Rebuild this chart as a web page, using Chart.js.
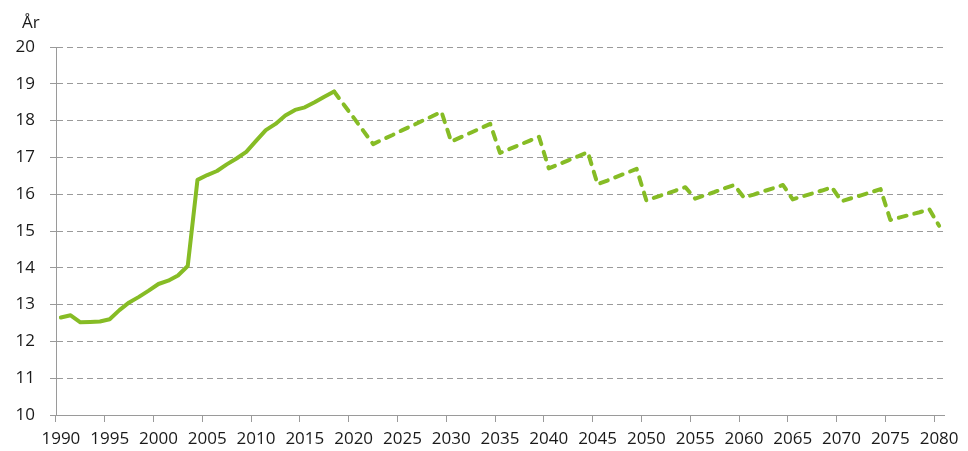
<!DOCTYPE html>
<html>
<head>
<meta charset="utf-8">
<script src="https://cdn.jsdelivr.net/npm/chart.js@4/dist/chart.umd.min.js"></script>
<style>
  html, body { margin: 0; padding: 0; background: #fff; }
  #wrap { width: 968px; height: 451px; position: relative; }
</style>
</head>
<body>
<div id="wrap"><canvas id="c"></canvas></div>
<script>
// Categories: years 1990–2080
const years = [];
for (let y = 1990; y <= 2080; y++) years.push(String(y));

// Historical values 1990–2018 (solid line)
const historical = [
  12.65, 12.71, 12.52, 12.53, 12.54, 12.60, 12.85, 13.06, 13.21, 13.38,
  13.56, 13.65, 13.79, 14.05, 16.39, 16.52, 16.63, 16.81, 16.97, 17.15,
  17.45, 17.74, 17.91, 18.14, 18.29, 18.36, 18.50, 18.65, 18.79
];

// Projection 2018–2080 (dashed line)
const projection = [
  18.79, 18.43, 18.08, 17.72, 17.36, 17.49, 17.61, 17.74, 17.86, 17.99,
  18.11, 18.24, 17.43, 17.55, 17.67, 17.79, 17.91, 17.12, 17.23, 17.34,
  17.45, 17.56, 16.70, 16.81, 16.92, 17.03, 17.14, 16.27, 16.37, 16.48,
  16.58, 16.69, 15.83, 15.92, 16.01, 16.10, 16.19, 15.88, 15.97, 16.06,
  16.16, 16.25, 15.91, 15.99, 16.08, 16.16, 16.25, 15.86, 15.94, 16.02,
  16.10, 16.19, 15.81, 15.89, 15.97, 16.05, 16.14, 15.30, 15.37, 15.44,
  15.51, 15.59, 15.14
];

const yTicks = [10, 11, 12, 13, 14, 15, 16, 17, 18, 19, 20];
const yUnit = 'År';

const histData = historical.concat(new Array(years.length - historical.length).fill(null));
const projData = new Array(years.length - projection.length).fill(null).concat(projection);

const green = '#86bc25';
const grey = '#9a9a9a';
const font = { family: '"Open Sans", sans-serif', size: 17 };

const unitLabel = {
  id: 'unitLabel',
  afterDraw(chart) {
    const ctx = chart.ctx;
    ctx.save();
    ctx.font = '17px "Open Sans", sans-serif';
    ctx.fillStyle = '#1a1a1a';
    ctx.textAlign = 'left';
    ctx.textBaseline = 'alphabetic';
    ctx.fillText(yUnit, 22, 28);
    ctx.restore();
  }
};

new Chart(document.getElementById('c'), {
  type: 'line',
  data: {
    labels: years,
    datasets: [
      {
        data: histData,
        borderColor: green,
        borderWidth: 4,
        pointRadius: 0,
        tension: 0,
        borderJoinStyle: 'round',
        borderCapStyle: 'round',
        spanGaps: false
      },
      {
        data: projData,
        borderColor: green,
        borderWidth: 4,
        pointRadius: 0,
        tension: 0,
        borderDash: [8, 8],
        borderJoinStyle: 'round',
        borderCapStyle: 'round',
        spanGaps: false
      }
    ]
  },
  options: {
    responsive: true,
    maintainAspectRatio: false,
    animation: false,
    events: [],
    layout: { padding: { top: 47, right: 24, left: 0, bottom: 0 } },
    plugins: { legend: { display: false }, tooltip: { enabled: false } },
    scales: {
      x: {
        type: 'category',
        offset: true,
        grid: {
          offset: true,
          drawOnChartArea: false,
          drawTicks: true,
          tickLength: 7,
          tickColor: (ctx) => (ctx.index % 5 === 0 ? grey : 'rgba(0,0,0,0)'),
          color: grey
        },
        border: { display: true, color: grey, width: 1 },
        ticks: {
          autoSkip: false,
          maxRotation: 0,
          minRotation: 0,
          padding: 7,
          color: '#1a1a1a',
          font: font,
          callback: (v, i) => (i % 5 === 0 ? years[i] : '')
        },
        afterFit: (s) => { s.height = 36; }
      },
      y: {
        min: 10,
        max: 20,
        afterBuildTicks: (s) => { s.ticks = yTicks.map(v => ({ value: v })); },
        grid: {
          color: grey,
          lineWidth: 1,
          drawTicks: true,
          tickLength: 6,
          tickColor: grey
        },
        border: { display: true, color: grey, width: 1, dash: [6, 4] },
        ticks: {
          padding: 15,
          color: '#1a1a1a',
          font: font
        },
        afterFit: (s) => { s.width = 56; }
      }
    }
  },
  plugins: [unitLabel]
});
</script>
</body>
</html>
